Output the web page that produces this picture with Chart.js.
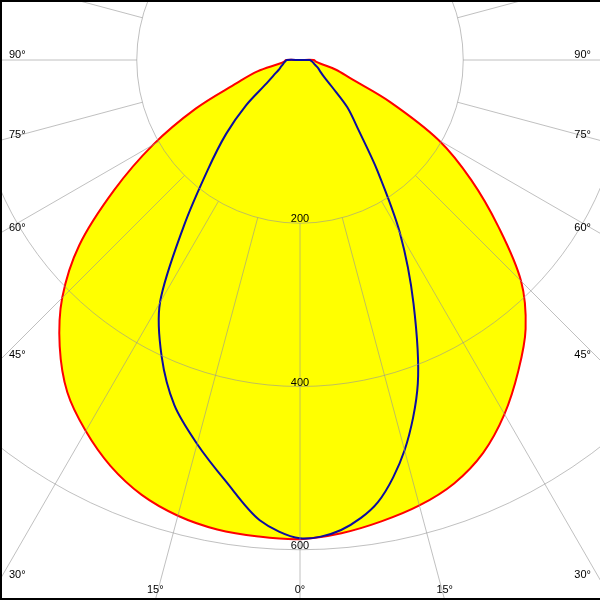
<!DOCTYPE html>
<html>
<head>
<meta charset="utf-8">
<script src="https://cdn.jsdelivr.net/npm/chart.js@4.4.1/dist/chart.umd.min.js"></script>
<style>
html, body { margin: 0; padding: 0; background: #fff; }
#wrap { position: relative; width: 600px; height: 600px; overflow: hidden; background: #fff; }
#frame { position: absolute; left: 0; top: 0; width: 600px; height: 600px; box-sizing: border-box;
  border-left: 2px solid #000; border-top: 2px solid #000; border-bottom: 2px solid #000; pointer-events: none; }
canvas { position: absolute; }
</style>
</head>
<body>
<div id="wrap"><canvas id="c"></canvas><div id="frame"></div></div>
<script>
// Gamma angles (degrees from nadir) for each half-plane
const gammaAngles = [0, 5, 10, 15, 20, 25, 30, 35, 40, 45, 50, 55, 60, 65, 70, 75, 80, 85, 90];
// Red curve (yellow filled) — left half and right half, cd
const redLeft  = [587, 586, 584, 578, 567, 549, 525, 497, 458, 412, 353, 278, 208, 141, 82, 54, 25, 19, 17];
const redRight = [587, 582, 574, 565, 552, 531, 501, 466, 430, 383, 317, 256, 196, 122, 66, 45, 25, 19, 17];
// Blue curve — left half and right half, cd
const blueLeft  = [586, 566, 524, 487, 450, 401, 343, 248, 176, 128, 86, 50, 37, 29, 25, 22, 20, 18, 16];
const blueRight = [586, 578, 550, 495, 422, 329, 245, 165, 111, 82, 51, 36, 29, 25, 21, 18, 16, 14, 12];
// Upper hemisphere (gamma > 90) carries no light
const upperValue = 0;
// Radial ticks and angle tick labels
const radialTicks = [200, 400, 600];
const angleTickDegrees = [0, 15, 30, 45, 60, 75, 90];

const STEP = 5;
const N = 360 / STEP;
const cLabels = Array.from({length: N}, (_, i) => i * STEP);

function toRing(left, right) {
  const arr = new Array(N).fill(upperValue);
  gammaAngles.forEach((g, k) => {
    const iL = g / STEP;
    arr[iL] = left[k];
    if (g > 0) arr[N - iL] = right[k];
  });
  return arr;
}

const CX = 300, CY = 60, VW = 600, VH = 600;
const R = 653;
const cv = document.getElementById('c');
cv.width = 2 * R; cv.height = 2 * R;
cv.style.width = (2 * R) + 'px'; cv.style.height = (2 * R) + 'px';
cv.style.left = (CX - R) + 'px'; cv.style.top = (CY - R) + 'px';

const GRID = 'rgba(150,150,150,0.6)';
const FONT = '11px "Liberation Sans", Arial, sans-serif';

const labelPlugin = {
  id: 'polarLabels',
  afterDraw(chart) {
    const s = chart.scales.r;
    const ctx = chart.ctx;
    const ox = s.xCenter - CX, oy = s.yCenter - CY;
    ctx.save();
    ctx.font = FONT;
    ctx.fillStyle = '#000';
    ctx.textBaseline = 'alphabetic';
    ctx.textAlign = 'center';
    radialTicks.forEach(v => {
      const d = s.getDistanceFromCenterForValue(v);
      ctx.fillText(String(v), s.xCenter, s.yCenter + d - 1);
    });
    angleTickDegrees.forEach(deg => {
      [1, -1].forEach(side => {
        if (deg === 0 && side === -1) return;
        const idx = side === 1 ? deg / STEP : (N - deg / STEP) % N;
        const p = s.getPointPosition(idx, 100);
        let ux = (p.x - s.xCenter) / 100, uy = (p.y - s.yCenter) / 100;
        if (Math.abs(ux) < 1e-9) ux = 0;
        if (Math.abs(uy) < 1e-9) uy = 0;
        let t = Infinity, edge = '';
        if (ux < 0) { const tt = -CX / ux; if (tt < t) { t = tt; edge = 'left'; } }
        if (ux > 0) { const tt = (VW - CX) / ux; if (tt < t) { t = tt; edge = 'right'; } }
        if (uy > 0) { const tt = (VH - CY) / uy; if (tt < t) { t = tt; edge = 'bottom'; } }
        const hx = CX + t * ux, hy = CY + t * uy;
        const text = deg + '°';
        let x, y;
        if (edge === 'left') { ctx.textAlign = 'left'; x = 9; y = Math.min(hy - 2, 593); }
        else if (edge === 'right') { ctx.textAlign = 'right'; x = 591; y = Math.min(hy - 2, 593); }
        else { ctx.textAlign = 'center'; x = hx; y = 593; }
        ctx.fillText(text, x + ox, y + oy);
      });
    });
    ctx.restore();
  }
};

new Chart(cv, {
  type: 'radar',
  data: {
    labels: cLabels,
    datasets: [
      {
        label: 'C90-C270',
        data: toRing(blueLeft, blueRight),
        borderColor: '#0c0ca0',
        borderWidth: 2,
        fill: false,
        pointRadius: 0,
        tension: 0.3
      },
      {
        label: 'C0-C180',
        data: toRing(redLeft, redRight),
        borderColor: '#ff0000',
        backgroundColor: '#ffff00',
        borderWidth: 2,
        fill: true,
        pointRadius: 0,
        tension: 0.35
      }
    ]
  },
  options: {
    responsive: false,
    animation: false,
    devicePixelRatio: 1,
    layout: { padding: 0 },
    plugins: { legend: { display: false }, tooltip: { enabled: false } },
    scales: {
      r: {
        min: 0,
        max: 800,
        startAngle: 180,
        ticks: { stepSize: 200, display: false },
        pointLabels: { display: false },
        grid: { circular: true, color: GRID, lineWidth: 1, z: 1 },
        angleLines: {
          display: true,
          color: GRID,
          lineWidth: ctx => (ctx.index % 3 === 0 ? 1 : 0),
          borderDash: ctx => [5000, ctx.scale.getDistanceFromCenterForValue(radialTicks[0])],
          borderDashOffset: 5000
        }
      }
    }
  },
  plugins: [labelPlugin]
});
</script>
</body>
</html>
